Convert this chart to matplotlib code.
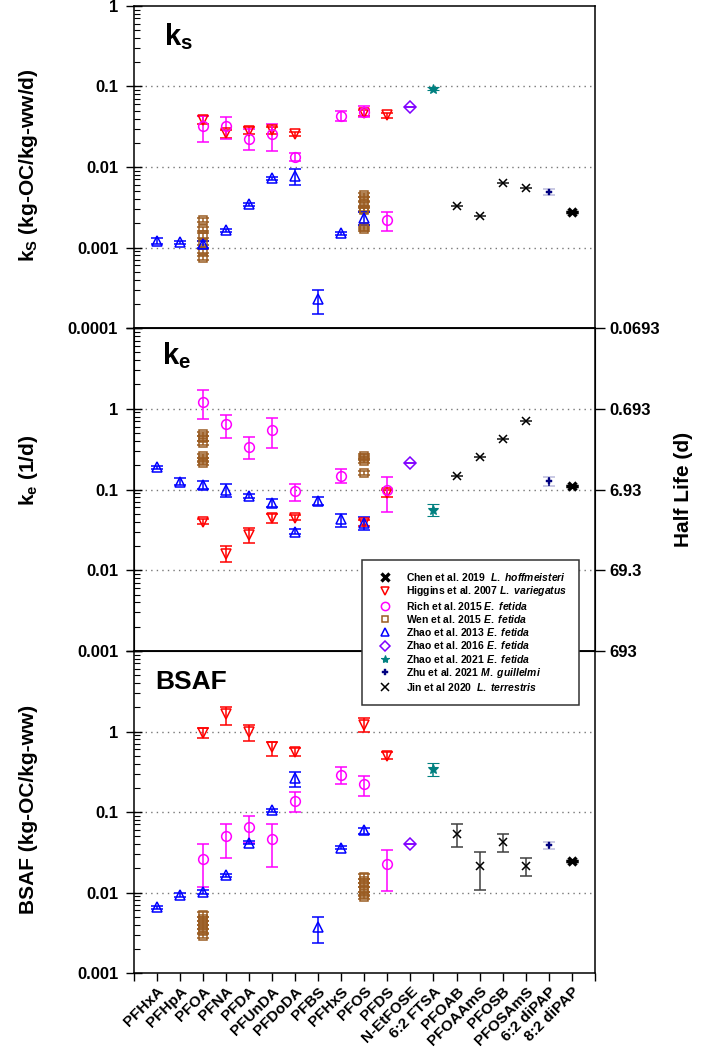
import math
import matplotlib
matplotlib.use("Agg")
import matplotlib.pyplot as plt
from matplotlib.lines import Line2D
from matplotlib.ticker import FixedLocator, FixedFormatter, LogLocator, NullFormatter

plt.rcParams['font.family'] = ['Liberation Sans', 'DejaVu Sans']
plt.rcParams['font.weight'] = 'bold'
plt.rcParams['mathtext.fontset'] = 'custom'
plt.rcParams['mathtext.rm'] = 'Liberation Sans:bold'
plt.rcParams['mathtext.bf'] = 'Liberation Sans:bold'
plt.rcParams['mathtext.it'] = 'Liberation Sans:bold:italic'

categories = ["PFHxA", "PFHpA", "PFOA", "PFNA", "PFDA", "PFUnDA", "PFDoDA", "PFBS",
              "PFHxS", "PFOS", "PFDS", "N-EtFOSE", "6:2 FTSA", "PFOAB", "PFOAAmS",
              "PFOSB", "PFOSAmS", "6:2 diPAP", "8:2 diPAP"]

# rows: (compound, value, low, high)
# ---- ks (kg-OC/kg-ww/d)
ks_chen = [("8:2 diPAP", 0.00277, 0.00277, 0.00277)]
ks_higgins = [("PFOA", 0.038, 0.034, 0.043), ("PFNA", 0.0266, 0.023, 0.029),
              ("PFDA", 0.0284, 0.026, 0.031), ("PFUnDA", 0.0287, 0.026, 0.031),
              ("PFDoDA", 0.0254, 0.024, 0.027), ("PFOS", 0.047, 0.043, 0.051),
              ("PFDS", 0.044, 0.041, 0.047)]
ks_rich = [("PFOA", 0.032, 0.0204, 0.0436), ("PFNA", 0.032, 0.0224, 0.042),
           ("PFDA", 0.022, 0.0162, 0.0298), ("PFUnDA", 0.0254, 0.0156, 0.034),
           ("PFDoDA", 0.0132, 0.0118, 0.015), ("PFHxS", 0.0436, 0.0375, 0.049),
           ("PFOS", 0.048, 0.042, 0.057), ("PFDS", 0.00218, 0.0016, 0.0028)]
ks_wen = [("PFOA", 0.00218), ("PFOA", 0.00172), ("PFOA", 0.00141), ("PFOA", 0.00115),
          ("PFOA", 0.0009), ("PFOA", 0.00074),
          ("PFOS", 0.0045), ("PFOS", 0.004), ("PFOS", 0.0035), ("PFOS", 0.003),
          ("PFOS", 0.0029), ("PFOS", 0.0018), ("PFOS", 0.0017)]
ks_zhao13 = [("PFHxA", 0.0012, 0.0011, 0.0013), ("PFHpA", 0.00116, 0.0011, 0.00122),
             ("PFOA", 0.00109, 0.00098, 0.0012), ("PFNA", 0.00164, 0.00155, 0.00172),
             ("PFDA", 0.00345, 0.0033, 0.0036), ("PFUnDA", 0.0072, 0.0069, 0.0075),
             ("PFDoDA", 0.0077, 0.0059, 0.0095), ("PFBS", 0.00023, 0.00015, 0.0003),
             ("PFHxS", 0.00152, 0.00145, 0.00158), ("PFOS", 0.00231, 0.0019, 0.0028)]
ks_zhao16 = [("N-EtFOSE", 0.056, 0.056, 0.056)]
ks_zhao21 = [("6:2 FTSA", 0.094, 0.09, 0.098)]
ks_zhu = [("6:2 diPAP", 0.0049, 0.0045, 0.0054)]
ks_jin = [("PFOAB", 0.0033, 0.0033, 0.0033), ("PFOAAmS", 0.00245, 0.00245, 0.00245),
          ("PFOSB", 0.0064, 0.0064, 0.0064), ("PFOSAmS", 0.0055, 0.0055, 0.0055)]

# ---- ke (1/d)
ke_chen = [("8:2 diPAP", 0.112, 0.112, 0.112)]
ke_higgins = [("PFOA", 0.04, 0.037, 0.043), ("PFNA", 0.0161, 0.0127, 0.0197),
              ("PFDA", 0.0272, 0.0215, 0.033), ("PFUnDA", 0.045, 0.039, 0.05),
              ("PFDoDA", 0.045, 0.042, 0.048), ("PFOS", 0.038, 0.035, 0.042),
              ("PFDS", 0.0896, 0.08, 0.1)]
ke_rich = [("PFOA", 1.23, 0.745, 1.69), ("PFNA", 0.645, 0.43, 0.84),
           ("PFDA", 0.34, 0.237, 0.445), ("PFUnDA", 0.55, 0.325, 0.77),
           ("PFDoDA", 0.096, 0.0725, 0.117), ("PFHxS", 0.149, 0.122, 0.178),
           ("PFDS", 0.0986, 0.052, 0.142)]
ke_wen = [("PFOA", 0.49), ("PFOA", 0.43), ("PFOA", 0.375), ("PFOA", 0.26),
          ("PFOA", 0.232), ("PFOA", 0.215),
          ("PFOS", 0.26), ("PFOS", 0.244), ("PFOS", 0.228), ("PFOS", 0.159)]
ke_zhao13 = [("PFHxA", 0.188, 0.18, 0.196), ("PFHpA", 0.125, 0.115, 0.137),
             ("PFOA", 0.114, 0.101, 0.126), ("PFNA", 0.1, 0.08, 0.117),
             ("PFDA", 0.083, 0.078, 0.088), ("PFUnDA", 0.069, 0.061, 0.077),
             ("PFDoDA", 0.03, 0.028, 0.032), ("PFBS", 0.0726, 0.065, 0.08),
             ("PFHxS", 0.0426, 0.034, 0.05), ("PFOS", 0.0387, 0.0315, 0.046)]
ke_zhao16 = [("N-EtFOSE", 0.211, 0.211, 0.211)]
ke_zhao21 = [("6:2 FTSA", 0.0556, 0.047, 0.0655)]
ke_zhu = [("6:2 diPAP", 0.128, 0.111, 0.144)]
ke_jin = [("PFOAB", 0.148, 0.148, 0.148), ("PFOAAmS", 0.256, 0.256, 0.256),
          ("PFOSB", 0.42, 0.42, 0.42), ("PFOSAmS", 0.7, 0.7, 0.7)]

# ---- BSAF (kg-OC/kg-ww)
bsaf_chen = [("8:2 diPAP", 0.0245, 0.0245, 0.0245)]
bsaf_higgins = [("PFOA", 0.96, 0.835, 1.09), ("PFNA", 1.63, 1.22, 2.03),
                ("PFDA", 1.0, 0.77, 1.19), ("PFUnDA", 0.645, 0.503, 0.745),
                ("PFDoDA", 0.553, 0.5, 0.62), ("PFOS", 1.22, 0.99, 1.48),
                ("PFDS", 0.503, 0.46, 0.55)]
bsaf_rich = [("PFOA", 0.0262, 0.0116, 0.0405), ("PFNA", 0.05, 0.0272, 0.0719),
             ("PFDA", 0.0648, 0.0416, 0.089), ("PFUnDA", 0.0465, 0.021, 0.0714),
             ("PFDoDA", 0.139, 0.1, 0.176), ("PFHxS", 0.292, 0.226, 0.36),
             ("PFOS", 0.224, 0.16, 0.284), ("PFDS", 0.0223, 0.0103, 0.0341)]
bsaf_wen = [("PFOA", 0.00533), ("PFOA", 0.00471), ("PFOA", 0.0042), ("PFOA", 0.0037),
            ("PFOA", 0.0033), ("PFOA", 0.00292),
            ("PFOS", 0.0158), ("PFOS", 0.014), ("PFOS", 0.0124), ("PFOS", 0.0109),
            ("PFOS", 0.0096), ("PFOS", 0.0088)]
bsaf_zhao13 = [("PFHxA", 0.00657, 0.0062, 0.0069), ("PFHpA", 0.00935, 0.0089, 0.0098),
               ("PFOA", 0.0101, 0.0095, 0.0107), ("PFNA", 0.0163, 0.0156, 0.017),
               ("PFDA", 0.0414, 0.0395, 0.0432), ("PFUnDA", 0.105, 0.1, 0.11),
               ("PFDoDA", 0.266, 0.204, 0.312), ("PFBS", 0.0037, 0.00238, 0.005),
               ("PFHxS", 0.0359, 0.0345, 0.0373), ("PFOS", 0.059, 0.054, 0.064)]
bsaf_zhao16 = [("N-EtFOSE", 0.0395, 0.0395, 0.0395)]
bsaf_zhao21 = [("6:2 FTSA", 0.343, 0.284, 0.409)]
bsaf_zhu = [("6:2 diPAP", 0.0384, 0.035, 0.042)]
bsaf_jin = [("PFOAB", 0.054, 0.0369, 0.07), ("PFOAAmS", 0.0216, 0.0107, 0.0322),
            ("PFOSB", 0.043, 0.0318, 0.054), ("PFOSAmS", 0.0216, 0.0159, 0.0267)]

legend_labels = ["Chen et al. 2019  $\\it{L.\\ hoffmeisteri}$",
                 "Higgins et al. 2007 $\\it{L.\\ variegatus}$",
                 "Rich et al. 2015 $\\it{E.\\ fetida}$",
                 "Wen et al. 2015 $\\it{E.\\ fetida}$",
                 "Zhao et al. 2013 $\\it{E.\\ fetida}$",
                 "Zhao et al. 2016 $\\it{E.\\ fetida}$",
                 "Zhao et al. 2021 $\\it{E.\\ fetida}$",
                 "Zhu et al. 2021 $\\it{M.\\ guillelmi}$",
                 "Jin et al 2020  $\\it{L.\\ terrestris}$"]

BROWN = '#9a5c22'
styles = [
    dict(marker='x', color='black', mfc='black', ms=6, mew=2.4, ecolor='black'),
    dict(marker='v', color='red', mfc='none', ms=7, mew=1.1, ecolor='red'),
    dict(marker='o', color='#ff00ff', mfc='none', ms=7, mew=1.1, ecolor='#ff00ff'),
    dict(marker='s', color=BROWN, mfc='none', ms=5.5, mew=1.1, ecolor=BROWN),
    dict(marker='^', color='blue', mfc='none', ms=7, mew=1.1, ecolor='blue'),
    dict(marker='D', color='#8000ff', mfc='none', ms=6, mew=1.1, ecolor='#8000ff'),
    dict(marker='*', color='#008080', mfc='#008080', ms=7, mew=0.8, ecolor='#008080'),
    dict(marker='P', color='#000080', mfc='#000080', ms=5, mew=0.3, ecolor='#000080'),
    dict(marker='x', color='black', mfc='black', ms=6, mew=1.1, ecolor='#404040'),
]


def plot_rows(ax, rows, st, square=False):
    xs, ys, lo, hi = [], [], [], []
    for r in rows:
        xs.append(categories.index(r[0]) + 1)
        ys.append(r[1])
        if square:
            lo.append(r[1] * 0.06)
            hi.append(r[1] * 0.06)
        else:
            lo.append(r[1] - r[2])
            hi.append(r[3] - r[1])
    ax.errorbar(xs, ys, yerr=[lo, hi], fmt=st['marker'], color=st['color'],
                mfc=st['mfc'], mec=st['color'], ms=st['ms'], mew=st['mew'],
                ecolor=st['ecolor'], elinewidth=1.1, capsize=4, capthick=1.1,
                zorder=3)


fig = plt.figure(figsize=(7.05, 10.5), dpi=100)
L, W, H = 0.1894, 0.6546, 0.3067
ax_ks = fig.add_axes([L, 0.6876, W, H])
ax_ke = fig.add_axes([L, 0.3800, W, 0.3076])
ax_bs = fig.add_axes([L, 0.0733, W, H])

panels = [
    (ax_ks, [ks_chen, ks_higgins, ks_rich, ks_wen, ks_zhao13, ks_zhao16, ks_zhao21, ks_zhu, ks_jin],
     (1e-4, 1), ['0.0001', '0.001', '0.01', '0.1', '1']),
    (ax_ke, [ke_chen, ke_higgins, ke_rich, ke_wen, ke_zhao13, ke_zhao16, ke_zhao21, ke_zhu, ke_jin],
     (1e-3, 10), ['0.001', '0.01', '0.1', '1', '']),
    (ax_bs, [bsaf_chen, bsaf_higgins, bsaf_rich, bsaf_wen, bsaf_zhao13, bsaf_zhao16, bsaf_zhao21, bsaf_zhu, bsaf_jin],
     (1e-3, 10), ['0.001', '0.01', '0.1', '1', '']),
]

for ax, series, ylim, ylabels in panels:
    ax.set_yscale('log')
    ax.set_ylim(*ylim)
    ax.set_xlim(0, 20)
    ax.patch.set_alpha(0)
    for i in [3, 1, 2, 4, 5, 6, 7, 8, 0]:
        plot_rows(ax, series[i], styles[i], square=(i == 3))
    decades = [10.0 ** e for e in range(round(math.log10(ylim[0])), round(math.log10(ylim[1])) + 1)]
    ax.yaxis.set_major_locator(FixedLocator(decades))
    ax.yaxis.set_major_formatter(FixedFormatter(ylabels))
    ax.yaxis.set_minor_locator(LogLocator(base=10, subs=range(2, 10)))
    ax.yaxis.set_minor_formatter(NullFormatter())
    ax.tick_params(axis='y', which='major', direction='inout', length=12, width=1,
                   labelsize=12, pad=5, right=False)
    ax.tick_params(axis='y', which='minor', direction='in', length=4, width=0.8, right=False)
    for d in decades[1:-1]:
        ax.axhline(d, color='#777777', ls=(0, (1, 3)), lw=1, zorder=1)
    for s in ax.spines.values():
        s.set_linewidth(1.1)

for ax in (ax_ks, ax_ke):
    ax.set_xticks([])

ax_bs.set_xticks(range(0, 21))
ax_bs.set_xticklabels([''] + categories + [''], rotation=45, ha='right',
                      rotation_mode='anchor', fontsize=11, fontweight='bold')
ax_bs.tick_params(axis='x', direction='out', length=6, width=1, pad=2)

# half life axis
ax_hl = ax_ke.twinx()
ax_hl.set_yscale('log')
ax_hl.set_ylim(1e-3, 10)
ax_hl.yaxis.set_major_locator(FixedLocator([10, 1, 0.1, 0.01, 0.001]))
ax_hl.yaxis.set_major_formatter(FixedFormatter(['0.0693', '0.693', '6.93', '69.3', '693']))
ax_hl.yaxis.set_minor_locator(FixedLocator([]))
ax_hl.tick_params(axis='y', direction='out', length=7, width=1, labelsize=12)
ax_hl.set_ylabel('Half Life (d)', fontsize=15, fontweight='bold', labelpad=10)

# y labels and panel tags
fig.text(0.040, 0.843, 'k$_\\mathregular{S}$ (kg-OC/kg-ww/d)', rotation=90,
         ha='center', va='center', fontsize=15)
fig.text(0.040, 0.552, 'k$_\\mathregular{e}$ (1/d)', rotation=90,
         ha='center', va='center', fontsize=15)
fig.text(0.040, 0.229, 'BSAF (kg-OC/kg-ww)', rotation=90,
         ha='center', va='center', fontsize=15)
ax_ks.text(0.065, 0.905, 'k$_\\mathregular{s}$', transform=ax_ks.transAxes,
           fontsize=21, ha='left', va='center')
ax_ke.text(0.062, 0.915, 'k$_\\mathregular{e}$', transform=ax_ke.transAxes,
           fontsize=21, ha='left', va='center')
ax_bs.text(0.048, 0.905, 'BSAF', transform=ax_bs.transAxes,
           fontsize=19, ha='left', va='center')

handles = [Line2D([], [], ls='none', marker=st['marker'], color=st['color'],
                  mfc=st['mfc'], mec=st['color'], ms=st['ms'] * 0.85, mew=st['mew'])
           for st in styles]
leg = fig.legend(handles, legend_labels, loc='upper left',
                 bbox_to_anchor=(0.513, 0.467), fontsize=7.5, frameon=True,
                 fancybox=False, edgecolor='#333333', framealpha=1,
                 labelspacing=0.12, handletextpad=1.0, borderpad=1.1,
                 handlelength=2.2, borderaxespad=0)
leg.get_frame().set_linewidth(1.1)
leg.set_zorder(10)

fig.savefig('out.png', dpi=100)
